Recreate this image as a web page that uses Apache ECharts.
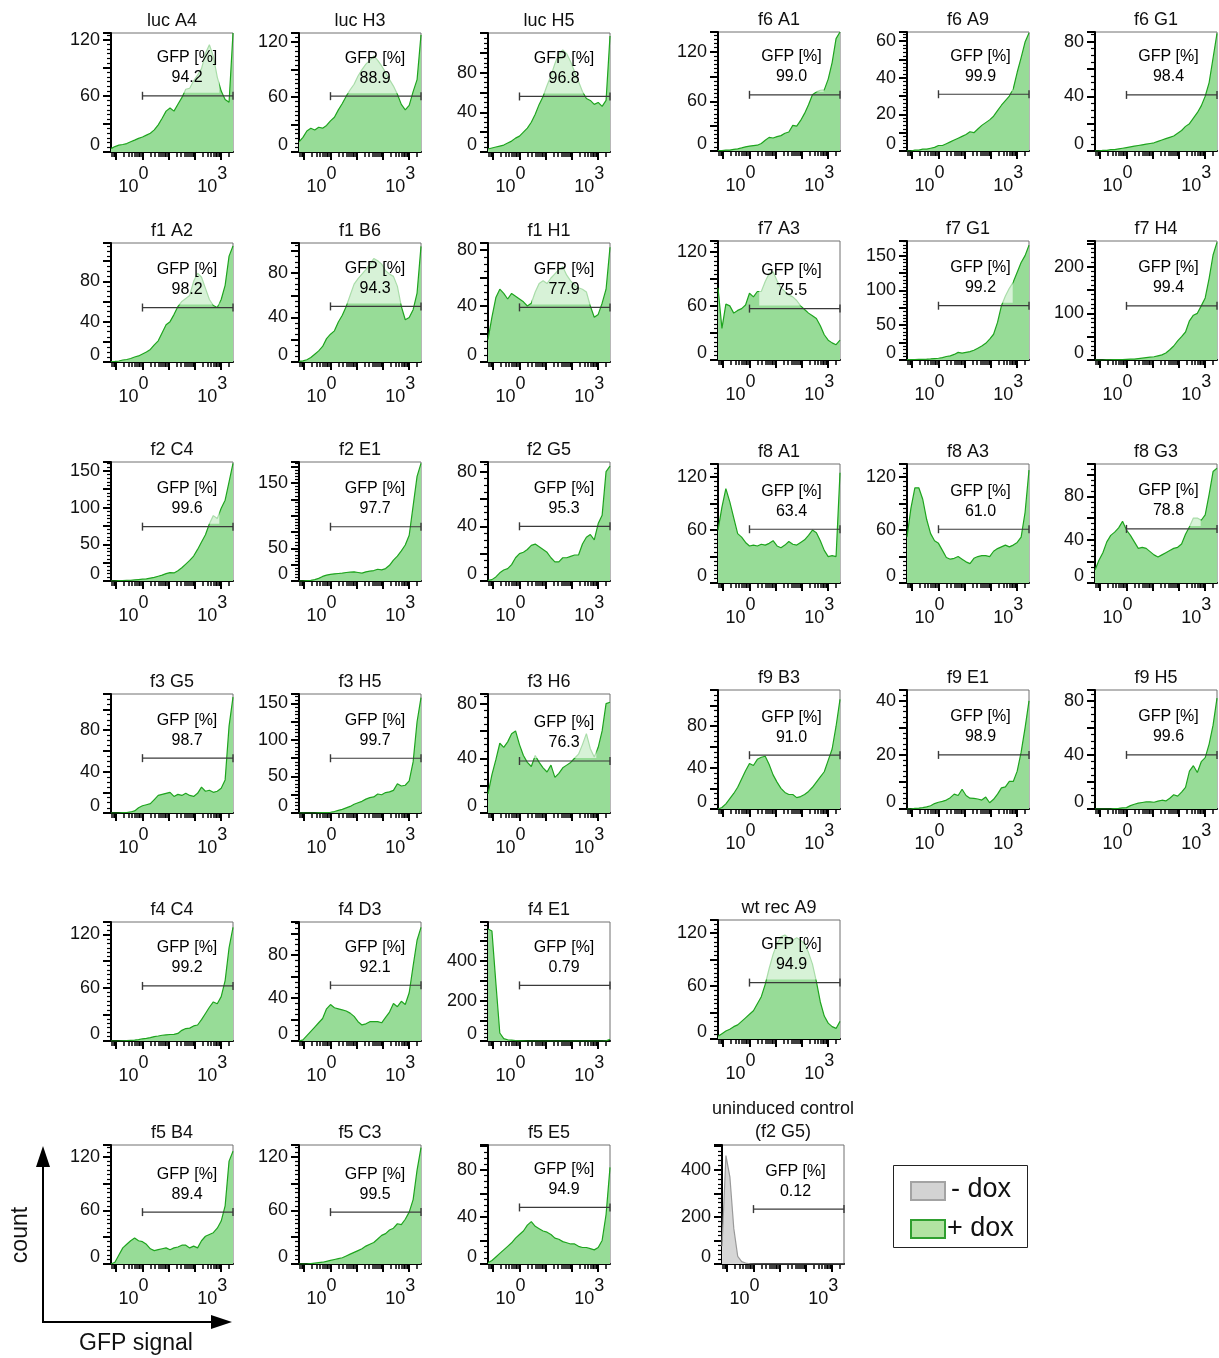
<!DOCTYPE html>
<html>
<head>
<meta charset="utf-8">
<script src="https://cdn.jsdelivr.net/npm/echarts@6/dist/echarts.min.js"></script>
<style>
  html, body { margin: 0; padding: 0; background: #fff; }
  #chart { width: 1219px; height: 1358px; }
</style>
</head>
<body>
<div id="chart"></div>
<script>
// GFP signal bins (decades; 10^0 at 0, 10^3 at 3)
const xs = [-1.2, -1.05, -0.9, -0.75, -0.6, -0.45, -0.3, -0.15, 0, 0.15, 0.3, 0.45, 0.6, 0.75, 0.9, 1.05,
            1.2, 1.35, 1.5, 1.65, 1.8, 1.95, 2.1, 2.25, 2.4, 2.55, 2.7, 2.85, 3, 3.15, 3.3, 3.45];
const xTickLabels = [0, 3];

// event counts per bin, one histogram per clone
const lucA4 = [3.6, 5.8, 7.3, 8, 9, 11, 12.7, 14.5, 16, 18, 20, 23.6, 29, 36, 43.6, 47, 43.6, 51, 58, 67, 68, 76, 82, 89, 105, 114.5, 102, 80, 65, 56, 53, 127];
const lucH3 = [11, 16, 23, 26, 24, 27, 26, 29, 34, 38, 46, 53, 61, 68, 74, 83, 90, 96, 100, 105, 100, 94, 87, 79, 72, 63, 52, 46, 51, 66, 79, 128];
const lucH5 = [3, 4, 5, 6, 7, 9, 11, 14, 16, 20, 24, 30, 38, 48, 56, 67, 77, 89, 99, 103, 99, 91, 81, 71, 61, 54, 52, 48, 50, 46, 52, 117];
const f1A2 = [0.5, 0.6, 1, 2, 2.5, 3.5, 5, 6, 8, 10, 12.5, 17, 21, 29, 37, 40, 47, 55, 60, 63, 66, 80, 88, 84, 73, 62, 56, 54, 62, 76, 105, 115];
const f1B6 = [0.5, 1, 2, 4, 7, 10, 14, 21, 25, 28, 36, 42, 50, 60, 70, 75, 79, 83, 88, 93, 91, 88, 82, 79, 77, 68, 50, 38, 40, 47, 62, 104];
const f1H1 = [16, 32, 46, 52, 49, 45, 49, 47, 45, 43, 40, 42, 50, 56, 58, 56, 60, 63, 66, 68, 62, 58, 55, 53, 52, 50, 40, 32, 34, 42, 52, 82];
const f2C4 = [0, 0, 0.5, 0.5, 1, 1, 1.5, 2, 2.5, 3, 4, 5, 6.5, 8, 10, 11.5, 11, 14, 18, 23, 28, 34, 43, 53, 63, 78, 89, 85, 99, 110, 135, 160];
const f2E1 = [0, 0, 0.5, 1, 2, 4, 7, 9, 10, 11, 11.5, 12, 13, 13.5, 14, 13, 12, 14, 15, 16, 18, 17, 19, 24, 32, 38, 46, 55, 70, 115, 160, 180];
const f2G5 = [0.5, 1, 3, 6, 8, 9, 12, 17, 20, 21, 23, 26, 27, 25, 23, 21, 17, 14, 14, 17, 17, 18, 19, 19, 27, 32, 34, 30, 42, 48, 80, 84];
const f3G5 = [0, 0, 0, 0.3, 0.5, 1, 2, 5, 7, 8, 9, 13, 17, 18, 19, 20, 16, 18, 17, 19, 17, 16, 19, 25, 21, 22, 20, 21, 24, 32, 84, 112];
const f3H5 = [0, 0, 0, 0, 0, 0.3, 0.5, 0.5, 1, 2, 3.5, 5, 7, 9, 12, 14, 16, 19, 21, 22, 26, 25, 28, 29, 31, 40, 37, 38, 44, 70, 125, 158];
const f3H6 = [14, 28, 39, 51, 48, 52, 58, 60, 50, 42, 37, 34, 42, 37, 33, 30, 35, 26, 29, 33, 35, 37, 40, 43, 50, 58, 47, 41, 48, 60, 80, 81];
const f4C4 = [0, 0, 0, 0.3, 0.5, 0.8, 1, 1.5, 2.5, 3, 3.8, 5, 5.6, 6.5, 7, 7.3, 7.5, 8.5, 12, 14, 14.5, 17, 18, 24, 31, 38, 44, 42, 50, 68, 105, 128];
const f4D3 = [0, 1, 5, 9, 13, 17, 21, 30, 34, 31, 30, 29, 28, 26, 23, 18, 15, 16, 18, 18, 18, 17, 22, 27, 35, 32, 37, 34, 45, 70, 94, 106];
const f4E1 = [560, 550, 290, 40, 12, 6, 4, 2, 1, 0.5, 0, 0, 0, 0, 0, 0, 0, 0, 0, 0, 0, 0, 0, 0, 0, 0, 0, 0, 0, 0, 1, 8];
const f5B4 = [0, 2, 10, 18, 22, 26, 29, 26, 25, 22, 17, 15, 16, 17, 18, 16, 18, 19, 21, 21, 18, 20, 18, 26, 31, 33, 35, 40, 48, 65, 115, 126];
const f5C3 = [0, 0, 0, 0.5, 1, 1.5, 2, 3, 4, 5, 6, 7, 9, 11, 13, 15, 17, 20, 22, 24, 28, 32, 34, 38, 40, 45, 44, 50, 58, 72, 105, 130];
const f5E5 = [1, 3, 6, 9, 12, 15, 18, 22, 25, 28, 33, 36, 32, 30, 28, 27, 25, 22, 21, 19, 18, 17, 17, 15, 14, 14, 13, 12, 14, 20, 42, 82];
const f6A1 = [0.4, 0.4, 1, 1, 2, 2.5, 3.7, 5, 6, 6.6, 7, 9, 13, 16.5, 15.7, 17.4, 18.6, 21.5, 23, 31, 30, 37, 45.5, 56, 68, 71.5, 73.5, 74, 87, 107, 136, 144];
const f6A9 = [0, 0, 0.5, 0.5, 1, 1, 1.5, 2, 3, 3, 4, 5, 6, 7, 8, 9, 10.5, 10, 12, 14, 15.5, 17, 19, 22, 25, 27.5, 30, 34, 43, 51, 59.5, 64.5];
const f6G1 = [0, 0, 0.5, 0.5, 1, 1, 1.5, 2, 2.5, 3, 3.5, 4, 4.5, 5, 5.5, 6, 7, 8, 9, 10, 11, 13, 15, 18, 20, 24, 28, 33, 40, 50, 68, 86];
const f7A3 = [80, 35, 62, 60, 52, 55, 57, 61, 74, 70, 76, 76, 87, 96, 98, 88, 80, 76, 72, 70, 66, 60, 56, 52, 49, 46, 38, 28, 22, 19, 17, 22];
const f7G1 = [0.5, 0.5, 0.7, 1, 1, 1.2, 1.5, 2, 2.5, 3.5, 5, 6, 8, 11, 10, 11, 12, 14, 17, 20, 24, 30, 37, 54, 78, 92, 103, 112, 126, 140, 150, 165];
const f7H4 = [0, 0, 0, 0.5, 0.5, 1, 1, 1, 1.5, 2, 2, 3, 4, 5, 6, 7, 9, 11, 15, 22, 30, 41, 50, 60, 84, 96, 100, 116, 133, 175, 225, 252];
const f8A1 = [60, 86, 107, 92, 74, 56, 52, 46, 42, 43, 42, 44, 43, 45, 48, 42, 40, 43, 47, 44, 43, 46, 49, 54, 60, 57, 48, 37, 30, 31, 30, 125];
const f8A3 = [52, 85, 108, 108, 95, 72, 56, 48, 45, 37, 29, 27, 28, 30, 27, 24, 22, 28, 30, 31, 31, 30, 36, 39, 41, 43, 41, 43, 46, 52, 80, 128];
const f8G3 = [12, 21, 28, 38, 44, 47, 51, 57, 49, 44, 38, 32, 33, 32, 29, 26, 24, 26, 28, 30, 32, 33, 36, 45, 52, 60, 60, 58, 63, 82, 103, 106];
const f9B3 = [0, 1.5, 5, 10, 15, 21, 29, 37, 44, 42, 48, 50, 51, 43, 33, 26, 20, 16, 14, 14, 11, 12, 14, 17, 21, 26, 31, 36, 47, 58, 80, 106];
const f9E1 = [0, 0, 0.2, 0.3, 0.5, 0.8, 1.2, 2, 2.5, 2.8, 3.3, 4.2, 5.5, 5, 7.3, 5, 4, 3.9, 3.7, 3.3, 4.4, 2.3, 3.6, 5.5, 7.8, 8.2, 10.2, 10.2, 14, 21, 30, 40];
const f9H5 = [0, 0, 0, 0, 0, 0.3, 0.5, 0.8, 1, 2.5, 3.5, 4.3, 4.8, 5.2, 5.3, 5, 5.8, 6.5, 6, 8, 10.5, 9.5, 12.5, 16, 28, 32, 27, 35, 38, 48, 62, 82];
const wtRecA9 = [3, 6, 9, 11, 14, 16, 20, 24, 28, 32, 40, 48, 62, 80, 96, 108, 116, 118, 114, 112, 115, 112, 108, 98, 85, 65, 42, 26, 18, 14, 12, 20];
const uninducedF2G5 = [75, 460, 370, 150, 32, 10, 4, 1, 0, 0, 0, 0, 0, 0, 0, 0, 0, 0, 0, 0, 0, 0, 0, 0, 0, 0, 0, 0, 0, 0, 0, 0];

const panelNames = [
  'luc A4', 'luc H3', 'luc H5', 'f1 A2', 'f1 B6', 'f1 H1', 'f2 C4', 'f2 E1', 'f2 G5',
  'f3 G5', 'f3 H5', 'f3 H6', 'f4 C4', 'f4 D3', 'f4 E1', 'f5 B4', 'f5 C3', 'f5 E5',
  'f6 A1', 'f6 A9', 'f6 G1', 'f7 A3', 'f7 G1', 'f7 H4', 'f8 A1', 'f8 A3', 'f8 G3',
  'f9 B3', 'f9 E1', 'f9 H5', 'wt rec A9', 'uninduced control\n(f2 G5)'
];
const curves = [
  lucA4, lucH3, lucH5, f1A2, f1B6, f1H1, f2C4, f2E1, f2G5,
  f3G5, f3H5, f3H6, f4C4, f4D3, f4E1, f5B4, f5C3, f5E5,
  f6A1, f6A9, f6G1, f7A3, f7G1, f7H4, f8A1, f8A3, f8G3,
  f9B3, f9E1, f9H5, wtRecA9, uninducedF2G5
];
const gfpPercent = [
  '94.2', '88.9', '96.8', '98.2', '94.3', '77.9', '99.6', '97.7', '95.3',
  '98.7', '99.7', '76.3', '99.2', '92.1', '0.79', '89.4', '99.5', '94.9',
  '99.0', '99.9', '98.4', '75.5', '99.2', '99.4', '63.4', '61.0', '78.8',
  '91.0', '98.9', '99.6', '94.9', '0.12'
];
const gateLevel = [
  60, 61, 56, 54, 50, 39, 74, 83, 40,
  53, 75, 38, 62, 52, 278, 58, 58, 48,
  68, 31, 41, 57, 78, 116, 61, 61, 50,
  52, 20, 40, 64, 233
];
const yMax = [
  127, 130, 120, 118, 107, 85, 162, 182, 87,
  115, 163, 87, 134, 111, 595, 133, 133, 101,
  144, 65, 87, 132, 171, 255, 135, 135, 110,
  115, 44, 88, 135, 505
];
const yStep = [
  30, 30, 20, 20, 20, 20, 25, 25, 20,
  20, 25, 20, 30, 20, 100, 30, 30, 20,
  30, 10, 20, 30, 25, 50, 30, 30, 20,
  20, 10, 20, 30, 100
];
const yTickLabels = [
  [0, 60, 120], [0, 60, 120], [0, 40, 80], [0, 40, 80], [0, 40, 80], [0, 40, 80],
  [0, 50, 100, 150], [0, 50, 150], [0, 40, 80], [0, 40, 80], [0, 50, 100, 150], [0, 40, 80],
  [0, 60, 120], [0, 40, 80], [0, 200, 400], [0, 60, 120], [0, 60, 120], [0, 40, 80],
  [0, 60, 120], [0, 20, 40, 60], [0, 40, 80], [0, 60, 120], [0, 50, 100, 150], [0, 100, 200],
  [0, 60, 120], [0, 60, 120], [0, 40, 80], [0, 40, 80], [0, 20, 40], [0, 40, 80],
  [0, 60, 120], [0, 200, 400]
];

// ---- layout ----
const FONT = "'Liberation Sans', Arial, Helvetica, sans-serif";
const TXT = '#111';
const PW = 122, PH = 119;
const colLeft = [111, 299, 488, 718, 907, 1095];
const rowTopLeftBlock = [33, 243, 462, 694, 922, 1145];
const rowTopRightBlock = [32, 241, 464, 690, 920, 1145];
const X_MIN = -1.2, X_MAX = 3.45;

function cellOf(p) {
  if (p < 18) return { left: colLeft[p % 3], top: rowTopLeftBlock[Math.floor(p / 3)], right: false };
  if (p < 30) { const q = p - 18; return { left: colLeft[3 + q % 3], top: rowTopRightBlock[Math.floor(q / 3)], right: true }; }
  if (p === 30) return { left: colLeft[3], top: rowTopRightBlock[4], right: true };
  return { left: 722, top: 1145, right: true };
}

// logicle-style tick marks along the GFP axis
const majorXTicks = [-1, 0, 1, 2, 3];
const minorXTicks = [];
for (let d = -2; d <= 3; d++) {
  for (let k = 2; k <= 9; k++) {
    const v = d + Math.log10(k);
    if (v > X_MIN && v < X_MAX) minorXTicks.push(+v.toFixed(3));
  }
}

const GREEN_LINE = '#1ea41e';
const GREEN_FILL = '#97dc97';
const GRAY_LINE = '#9a9a9a';
const GRAY_FILL = '#d6d6d6';

const grid = [], xAxis = [], yAxis = [], series = [], title = [];

panelNames.forEach((name, p) => {
  const c = cellOf(p);
  const control = p === 31;
  grid.push({ left: c.left, top: c.top, width: PW, height: PH, show: true,
    borderColor: '#707070', borderWidth: 1, backgroundColor: 'transparent' });

  const xi = xAxis.length;
  xAxis.push({
    type: 'value', gridIndex: p, min: X_MIN, max: X_MAX, position: 'bottom',
    axisLine: { show: true, onZero: false, lineStyle: { color: '#000', width: 2 } },
    axisTick: { show: true, customValues: minorXTicks, length: 5, lineStyle: { color: '#000', width: 1.5 } },
    axisLabel: {
      show: true, customValues: xTickLabels, margin: 13, padding: [0, 18, 0, 0],
      formatter: v => '{b|10}{s|' + Math.round(v) + '}',
      rich: {
        b: { fontSize: 18, fontFamily: FONT, color: TXT, padding: [13, 0, 0, 0] },
        s: { fontSize: 18, fontFamily: FONT, color: TXT, padding: [0, 0, 13, 0] }
      }
    },
    splitLine: { show: false }
  });
  xAxis.push({
    type: 'value', gridIndex: p, min: X_MIN, max: X_MAX, position: 'bottom',
    axisLine: { show: false, onZero: false },
    axisTick: { show: true, customValues: majorXTicks, length: 8, lineStyle: { color: '#000', width: 2 } },
    axisLabel: { show: false }, splitLine: { show: false }
  });

  yAxis.push({
    type: 'value', gridIndex: p, min: 0, max: yMax[p], interval: yStep[p],
    axisLine: { show: true, onZero: false, lineStyle: { color: '#000', width: 2 } },
    axisTick: { show: true, length: 8, lineStyle: { color: '#000', width: 2 } },
    minorTick: { show: true, splitNumber: yStep[p] % 30 === 0 ? 6 : (yStep[p] === 20 ? 4 : 5), length: 4, lineStyle: { color: '#000', width: 1.2 } },
    axisLabel: {
      show: true, customValues: yTickLabels[p], margin: 11, fontSize: 18, fontFamily: FONT, color: TXT,
      formatter: v => (v === 0 ? '{z|0}' : String(v)),
      rich: { z: { fontSize: 18, fontFamily: FONT, color: TXT, padding: [0, 0, 14, 0] } }
    },
    splitLine: { show: false }
  });

  series.push({
    type: 'line', name: control ? '- dox' : '+ dox', xAxisIndex: xi, yAxisIndex: p,
    data: xs.map((x, i) => [x, curves[p][i]]),
    symbol: 'none', showSymbol: false, smooth: false,
    lineStyle: { color: control ? GRAY_LINE : GREEN_LINE, width: 1.2 },
    areaStyle: { color: control ? GRAY_FILL : GREEN_FILL, opacity: 1, origin: 'start' },
    z: 2, silent: true
  });
  // positive gate
  series.push({
    type: 'line', xAxisIndex: xi, yAxisIndex: p,
    data: [[0, gateLevel[p]], [X_MAX, gateLevel[p]]],
    symbol: 'rect', symbolSize: [1.4, 8], showSymbol: true,
    itemStyle: { color: '#3a3a3a' }, lineStyle: { color: '#3a3a3a', width: 1.2 },
    z: 3, silent: true
  });
  // gate readout
  series.push({
    type: 'scatter', xAxisIndex: xi, yAxisIndex: p,
    data: [[c.right ? 1.6 : 1.7, gateLevel[p]]], symbolSize: 0,
    itemStyle: { opacity: 1 },
    label: {
      show: true, position: 'top', distance: 3,
      formatter: 'GFP [%]\n' + gfpPercent[p],
      fontSize: 16, lineHeight: 20, fontFamily: FONT, color: '#000', align: 'center',
      backgroundColor: 'rgba(255,255,255,0.62)', padding: [10, 2, 5, 2]
    },
    z: 4, silent: true
  });

  title.push({
    text: name, left: c.left + PW / 2, top: control ? c.top - 47 : c.top - 23.5, textAlign: 'center', padding: 0,
    textStyle: { fontSize: 18, fontWeight: 'normal', fontFamily: FONT, color: TXT, lineHeight: 23 }
  });
});

// axis key (count / GFP signal arrows) and legend
const graphic = [
  { type: 'line', shape: { x1: 43, y1: 1322, x2: 43, y2: 1160 }, style: { stroke: '#000', lineWidth: 2 } },
  { type: 'polygon', shape: { points: [[43, 1146], [36, 1167], [50, 1167]] }, style: { fill: '#000' } },
  { type: 'line', shape: { x1: 42, y1: 1322, x2: 218, y2: 1322 }, style: { stroke: '#000', lineWidth: 2 } },
  { type: 'polygon', shape: { points: [[232, 1322], [211, 1315], [211, 1329]] }, style: { fill: '#000' } },
  { type: 'text', x: 21, y: 1235, rotation: Math.PI / 2,
    style: { text: 'count', font: '23px ' + FONT, fill: TXT, textAlign: 'center', textVerticalAlign: 'middle', align: 'center', verticalAlign: 'middle' } },
  { type: 'text', x: 136, y: 1344,
    style: { text: 'GFP signal', font: '23px ' + FONT, fill: TXT, textAlign: 'center', textVerticalAlign: 'middle', align: 'center', verticalAlign: 'middle' } },
  { type: 'rect', shape: { x: 893.5, y: 1165.5, width: 134, height: 82 }, style: { fill: '#fff', stroke: '#222', lineWidth: 1 } },
  { type: 'rect', shape: { x: 911, y: 1182, width: 34, height: 18 }, style: { fill: '#d3d3d3', stroke: '#a3a3a3', lineWidth: 2 } },
  { type: 'text', x: 951, y: 1190,
    style: { text: '- dox', font: '27px ' + FONT, fill: TXT, textAlign: 'left', textVerticalAlign: 'middle', align: 'left', verticalAlign: 'middle' } },
  { type: 'rect', shape: { x: 911, y: 1220, width: 34, height: 18 }, style: { fill: '#b2e3a2', stroke: '#2f9f2f', lineWidth: 2 } },
  { type: 'text', x: 947, y: 1229,
    style: { text: '+ dox', font: '27px ' + FONT, fill: TXT, textAlign: 'left', textVerticalAlign: 'middle', align: 'left', verticalAlign: 'middle' } }
];

const chart = echarts.init(document.getElementById('chart'), null, { renderer: 'canvas' });
chart.setOption({
  animation: false,
  backgroundColor: '#fff',
  textStyle: { fontFamily: FONT },
  title, grid, xAxis, yAxis, series, graphic
});
</script>
</body>
</html>
